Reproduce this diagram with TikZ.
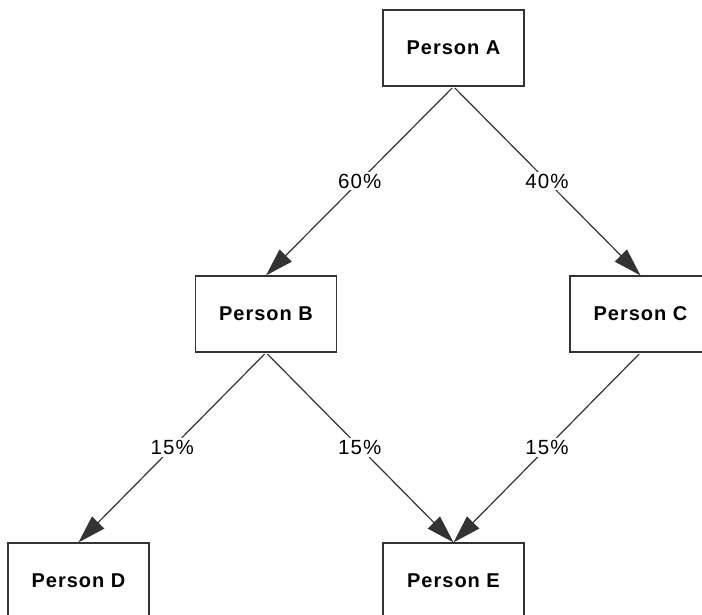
\documentclass[tikz,border=0pt]{standalone}
\usepackage{fontspec}
\setmainfont{Liberation Sans}[LetterSpace=5]
\usetikzlibrary{arrows.meta}
\begin{document}
\begin{tikzpicture}[x=1pt,y=-1pt,
  person/.style={draw=black!80, line width=1.2pt, fill=white, minimum width=141pt, minimum height=76pt, inner sep=0pt, font=\fontsize{20}{22}\selectfont\bfseries},
  link/.style={draw=black!80, line width=1.2pt, shorten <=2pt, -{Triangle[length=28pt,width=17pt]}},
  pct/.style={fill=white, inner sep=2pt, font=\fontsize{20.5}{22}\selectfont}]
\useasboundingbox (0,0) rectangle (702,614);
\node[person] (A) at (453.5,48) {Person A};
\node[person] (B) at (266,314) {Person B};
\node[person] (C) at (640.5,314) {Person C};
\node[person] (D) at (78.5,581) {Person D};
\node[person] (E) at (453.5,581) {Person E};
\draw[link] (A.south) -- node[pct] {60\%} (B.north);
\draw[link] (A.south) -- node[pct] {40\%} (C.north);
\draw[link] (B.south) -- node[pct] {15\%} (D.north);
\draw[link] (B.south) -- node[pct] {15\%} (E.north);
\draw[link] (C.south) -- node[pct] {15\%} (E.north);
\end{tikzpicture}
\end{document}
